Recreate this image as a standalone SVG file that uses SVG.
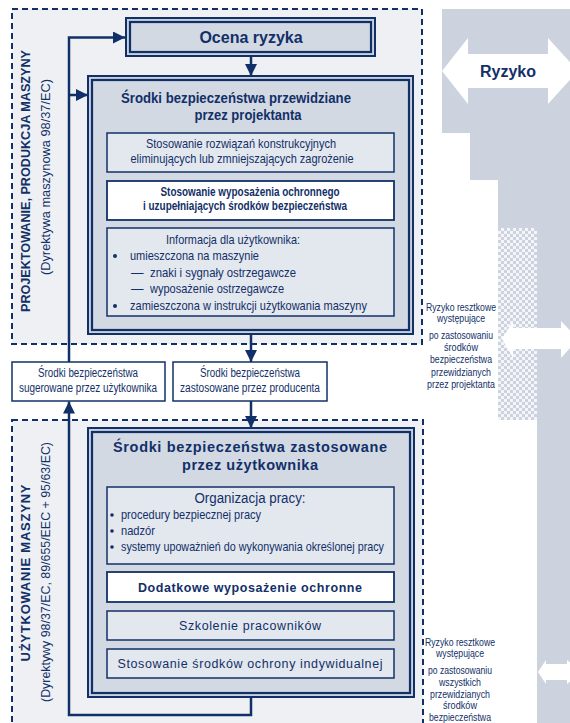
<svg xmlns="http://www.w3.org/2000/svg" width="570" height="723" viewBox="0 0 570 723">
<defs>
<style>
.t{font-family:"Liberation Sans",Arial,sans-serif;fill:#123068}
.b{font-weight:bold}
.zone{fill:#eef0f4;stroke:#123068;stroke-width:2;stroke-dasharray:6,4}
.outer{fill:#c9d1dd;stroke:#123068;stroke-width:2}
.inner{fill:#d2d9e3;stroke:#123068;stroke-width:2.2}
.sub{fill:#e3e7ee;stroke:#123068;stroke-width:1.5}
.wsub{fill:#ffffff;stroke:#123068;stroke-width:1.8}
.mid{fill:#ffffff;stroke:#123068;stroke-width:1.5}
.conn{fill:none;stroke:#123068;stroke-width:2.5}
.warrow{fill:#ffffff}
</style>
<marker id="ah" markerWidth="12" markerHeight="12" refX="12" refY="6" orient="auto" markerUnits="userSpaceOnUse">
<path d="M0,0 L12,6 L0,12 Z" fill="#123068"/>
</marker>
<pattern id="chk" x="0" y="0" width="6" height="6" patternUnits="userSpaceOnUse">
<rect width="6" height="6" fill="#f4f5f8"/>
<rect width="3" height="3" fill="#cdd3de"/>
<rect x="3" y="3" width="3" height="3" fill="#cdd3de"/>
</pattern>
</defs>
<rect width="570" height="723" fill="#ffffff"/>

<g id="risk-band">
<path d="M442,9 H570 V723 H537 V228 H498 V180 H470 V133 H442 Z" fill="#cdd3de"/>
<rect x="498" y="228" width="39" height="192" fill="url(#chk)"/>
<polygon class="warrow" points="442,71 468,38 468,54 548,54 548,38 578,71 548,104 548,88 468,88 468,104"/>
<text class="t b" x="508" y="77" font-size="16" text-anchor="middle">Ryzyko</text>
<polygon class="warrow" points="502,339 513,321 513,328 561,328 561,321 578,339 561,358 561,349 513,349 513,358"/>
<polygon class="warrow" points="538,672 546,660 546,664 567,664 567,660 582,672 567,684 567,680 546,680 546,684"/>
</g>

<g id="zone-design">
<rect class="zone" x="12" y="9" width="410" height="335"/>
<text class="t b" transform="translate(30,181) rotate(-90)" font-size="13.5" text-anchor="middle" textLength="262" lengthAdjust="spacingAndGlyphs">PROJEKTOWANIE, PRODUKCJA MASZYNY</text>
<text class="t" transform="translate(50,177) rotate(-90)" font-size="13" text-anchor="middle" textLength="196" lengthAdjust="spacingAndGlyphs">(Dyrektywa maszynowa 98/37/EC)</text>
</g>

<g id="zone-use">
<rect class="zone" x="12" y="420" width="411" height="310"/>
<text class="t b" transform="translate(30,573) rotate(-90)" font-size="13" text-anchor="middle" textLength="177" lengthAdjust="spacing">UŻYTKOWANIE MASZYNY</text>
<text class="t" transform="translate(50,572) rotate(-90)" font-size="13" text-anchor="middle" textLength="260" lengthAdjust="spacingAndGlyphs">(Dyrektywy 98/37/EC, 89/655/EEC + 95/63/EC)</text>
</g>

<g id="connectors">
<path class="conn" d="M69,362 V37.5 H125" marker-end="url(#ah)"/>
<path class="conn" d="M69,95 H88" marker-end="url(#ah)"/>
<path class="conn" d="M251,57 V76" marker-end="url(#ah)"/>
<path class="conn" d="M251,335 V362" marker-end="url(#ah)"/>
<path class="conn" d="M251,401 V428" marker-end="url(#ah)"/>
<path class="conn" d="M251,697 V715 H69 V401.5" marker-end="url(#ah)"/>
</g>

<g id="ocena">
<rect class="outer" x="126" y="18" width="249" height="38"/>
<rect class="inner" x="130" y="22" width="241" height="30"/>
<text class="t b" x="251" y="43" font-size="16" text-anchor="middle">Ocena ryzyka</text>
</g>

<g id="srodki-projektanta">
<rect class="outer" x="88" y="76" width="325" height="258"/>
<rect class="inner" x="92" y="80" width="317" height="250"/>
<text class="t b" x="236" y="103" font-size="15" text-anchor="middle" textLength="230" lengthAdjust="spacingAndGlyphs">Środki bezpieczeństwa przewidziane</text>
<text class="t b" x="248" y="120" font-size="15" text-anchor="middle" textLength="107" lengthAdjust="spacingAndGlyphs">przez projektanta</text>
</g>

<g id="rozwiazania">
<rect class="sub" x="107" y="133" width="287" height="39"/>
<text class="t" x="241" y="148" font-size="13" text-anchor="middle" textLength="190" lengthAdjust="spacingAndGlyphs">Stosowanie rozwiązań konstrukcyjnych</text>
<text class="t" x="242" y="163" font-size="13" text-anchor="middle" textLength="223" lengthAdjust="spacingAndGlyphs">eliminujących lub zmniejszających zagrożenie</text>
</g>

<g id="wyposazenie">
<rect class="wsub" x="107" y="181" width="287" height="39"/>
<text class="t b" x="250" y="196" font-size="12" text-anchor="middle" textLength="179" lengthAdjust="spacingAndGlyphs">Stosowanie wyposażenia ochronnego</text>
<text class="t b" x="245" y="210" font-size="12" text-anchor="middle" textLength="204" lengthAdjust="spacingAndGlyphs">i uzupełniających środków bezpieczeństwa</text>
</g>

<g id="informacja">
<rect class="sub" x="107" y="228" width="287" height="88"/>
<text class="t" x="233" y="244" font-size="13" text-anchor="middle" textLength="134" lengthAdjust="spacingAndGlyphs">Informacja dla użytkownika:</text>
<circle cx="115" cy="256" r="2" fill="#123068"/>
<text class="t" x="130" y="260" font-size="13" textLength="129" lengthAdjust="spacingAndGlyphs">umieszczona na maszynie</text>
<text class="t" x="131" y="277" font-size="12.5">—</text>
<text class="t" x="150" y="277" font-size="13" textLength="146" lengthAdjust="spacingAndGlyphs">znaki i sygnały ostrzegawcze</text>
<text class="t" x="131" y="293" font-size="12.5">—</text>
<text class="t" x="150" y="293" font-size="13" textLength="134" lengthAdjust="spacingAndGlyphs">wyposażenie ostrzegawcze</text>
<circle cx="115" cy="306" r="2" fill="#123068"/>
<text class="t" x="130" y="310" font-size="13" textLength="237" lengthAdjust="spacingAndGlyphs">zamieszczona w instrukcji użytkowania maszyny</text>
</g>

<g id="sugerowane">
<rect class="mid" x="12" y="362" width="153" height="39"/>
<text class="t" x="88" y="377" font-size="12.5" text-anchor="middle" textLength="100" lengthAdjust="spacingAndGlyphs">Środki bezpieczeństwa</text>
<text class="t" x="88" y="391.5" font-size="12.5" text-anchor="middle" textLength="138" lengthAdjust="spacingAndGlyphs">sugerowane przez użytkownika</text>
</g>

<g id="producenta">
<rect class="mid" x="173" y="362" width="154" height="39"/>
<text class="t" x="250" y="377" font-size="12.5" text-anchor="middle" textLength="100" lengthAdjust="spacingAndGlyphs">Środki bezpieczeństwa</text>
<text class="t" x="250" y="391.5" font-size="12.5" text-anchor="middle" textLength="140" lengthAdjust="spacingAndGlyphs">zastosowane przez producenta</text>
</g>

<g id="srodki-uzytkownika">
<rect class="outer" x="88" y="428" width="326" height="269"/>
<rect class="inner" x="92" y="432" width="318" height="261"/>
<text class="t b" x="250" y="452" font-size="14.5" text-anchor="middle" textLength="274" lengthAdjust="spacing">Środki bezpieczeństwa zastosowane</text>
<text class="t b" x="250" y="470" font-size="14.5" text-anchor="middle" textLength="136" lengthAdjust="spacing">przez użytkownika</text>
</g>

<g id="organizacja">
<rect class="sub" x="107" y="487" width="287" height="77"/>
<text class="t" x="250" y="503" font-size="14" text-anchor="middle" textLength="111" lengthAdjust="spacingAndGlyphs">Organizacja pracy:</text>
<circle cx="112" cy="515" r="1.8" fill="#123068"/>
<text class="t" x="121" y="519" font-size="13" textLength="140" lengthAdjust="spacingAndGlyphs">procedury bezpiecznej pracy</text>
<circle cx="112" cy="531" r="1.8" fill="#123068"/>
<text class="t" x="121" y="535" font-size="13" textLength="34" lengthAdjust="spacingAndGlyphs">nadzór</text>
<circle cx="112" cy="547" r="1.8" fill="#123068"/>
<text class="t" x="121" y="551" font-size="13" textLength="263" lengthAdjust="spacingAndGlyphs">systemy upoważnień do wykonywania określonej pracy</text>
</g>

<g id="dodatkowe">
<rect class="wsub" x="107" y="572" width="287" height="30"/>
<text class="t b" x="250" y="592" font-size="12.5" text-anchor="middle" textLength="224" lengthAdjust="spacing">Dodatkowe wyposażenie ochronne</text>
</g>

<g id="szkolenie">
<rect class="sub" x="107" y="611" width="287" height="29"/>
<text class="t" x="250" y="630" font-size="12.5" text-anchor="middle" textLength="142" lengthAdjust="spacing">Szkolenie pracowników</text>
</g>

<g id="indywidualne">
<rect class="sub" x="107" y="649" width="287" height="29"/>
<text class="t" x="250" y="668" font-size="12.5" text-anchor="middle" textLength="265" lengthAdjust="spacing">Stosowanie środków ochrony indywidualnej</text>
</g>

<g id="ryzyko-resztkowe-1">
<text class="t" x="461" y="311" font-size="11" text-anchor="middle" textLength="70" lengthAdjust="spacingAndGlyphs">Ryzyko resztkowe</text>
<text class="t" x="461" y="322" font-size="11" text-anchor="middle" textLength="48" lengthAdjust="spacingAndGlyphs">występujące</text>
<text class="t" x="461" y="339" font-size="11" text-anchor="middle" textLength="64" lengthAdjust="spacingAndGlyphs">po zastosowaniu</text>
<text class="t" x="461" y="351" font-size="11" text-anchor="middle" textLength="34" lengthAdjust="spacingAndGlyphs">środków</text>
<text class="t" x="461" y="363" font-size="11" text-anchor="middle" textLength="62" lengthAdjust="spacingAndGlyphs">bezpieczeństwa</text>
<text class="t" x="461" y="376" font-size="11" text-anchor="middle" textLength="60" lengthAdjust="spacingAndGlyphs">przewidzianych</text>
<text class="t" x="461" y="388" font-size="11" text-anchor="middle" textLength="68" lengthAdjust="spacingAndGlyphs">przez projektanta</text>
</g>

<g id="ryzyko-resztkowe-2">
<text class="t" x="460" y="646" font-size="11" text-anchor="middle" textLength="70" lengthAdjust="spacingAndGlyphs">Ryzyko resztkowe</text>
<text class="t" x="460" y="657" font-size="11" text-anchor="middle" textLength="48" lengthAdjust="spacingAndGlyphs">występujące</text>
<text class="t" x="460" y="674" font-size="11" text-anchor="middle" textLength="64" lengthAdjust="spacingAndGlyphs">po zastosowaniu</text>
<text class="t" x="460" y="686" font-size="11" text-anchor="middle" textLength="42" lengthAdjust="spacingAndGlyphs">wszystkich</text>
<text class="t" x="460" y="698" font-size="11" text-anchor="middle" textLength="60" lengthAdjust="spacingAndGlyphs">przewidzianych</text>
<text class="t" x="460" y="709" font-size="11" text-anchor="middle" textLength="34" lengthAdjust="spacingAndGlyphs">środków</text>
<text class="t" x="460" y="721" font-size="11" text-anchor="middle" textLength="62" lengthAdjust="spacingAndGlyphs">bezpieczeństwa</text>
</g>
</svg>
